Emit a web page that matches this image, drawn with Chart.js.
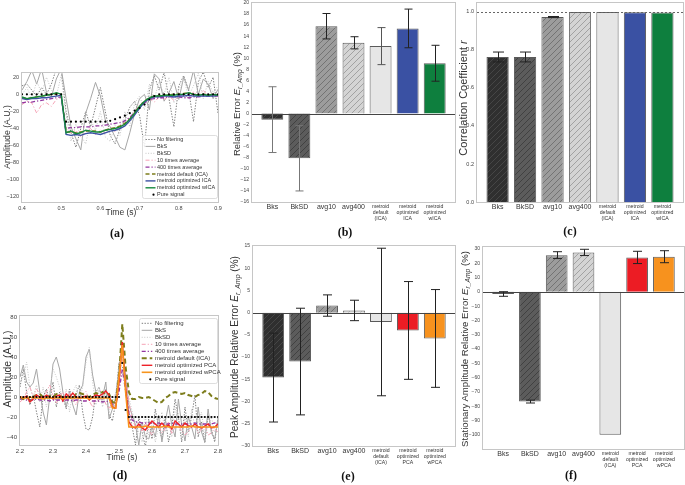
<!DOCTYPE html>
<html>
<head>
<meta charset="utf-8">
<script src="https://cdn.jsdelivr.net/npm/chart.js@4.4.1/dist/chart.umd.min.js"></script>
<style>
  body { margin: 0; background: #fff; width: 685px; height: 485px; position: relative; overflow: hidden;
         font-family: "Liberation Sans", Arial, sans-serif; }
  canvas { position: absolute; }
  .t { position: absolute; white-space: nowrap; color: #333; line-height: 1; }
  .yt { transform: translate(-50%, -50%) rotate(-90deg); }
  .xt { transform: translate(-50%, -50%); }
  .t sub { font-size: 70%; vertical-align: -0.3em; line-height: 0; }
  .lab { position: absolute; transform: translate(-50%, -50%); font: bold 12px "Liberation Serif", "Times New Roman", serif; color: #111; }
</style>
</head>
<body>
<canvas id="ca"></canvas>
<canvas id="cb"></canvas>
<canvas id="cc"></canvas>
<canvas id="cd"></canvas>
<canvas id="ce"></canvas>
<canvas id="cf"></canvas>

<div class="t yt" style="left:7px;top:137px;font-size:8.7px">Amplitude (A.U.)</div>
<div class="t xt" style="left:121px;top:212px;font-size:8.5px">Time (s)</div>
<div class="lab" style="left:117px;top:233px">(a)</div>

<div class="t yt" style="left:237px;top:104px;font-size:9.5px">Relative Error <i>E</i><sub><i>r_Amp</i></sub> (%)</div>
<div class="lab" style="left:345px;top:232px">(b)</div>

<div class="t yt" style="left:463px;top:98px;font-size:11px">Correlation Coefficient <i>r</i></div>
<div class="lab" style="left:570px;top:231px">(c)</div>

<div class="t yt" style="left:7px;top:369px;font-size:10.5px">Amplitude (A.U.)</div>
<div class="t xt" style="left:122px;top:457px;font-size:8.5px">Time (s)</div>
<div class="lab" style="left:120px;top:475px">(d)</div>

<div class="t yt" style="left:235px;top:347px;font-size:10px">Peak Amplitude Relative Error <i>E</i><sub><i>r_Amp</i></sub> (%)</div>
<div class="lab" style="left:348px;top:476px">(e)</div>

<div class="t yt" style="left:465px;top:349px;font-size:9.6px">Stationary Amplitude Relative Error <i>E</i><sub><i>r_Amp</i></sub> (%)</div>
<div class="lab" style="left:571px;top:475px">(f)</div>

<script>
// ---------- (a) time course around the step, ICA variants ----------
const timeA = [0.4, 0.4125, 0.425, 0.4375, 0.45, 0.4625, 0.475, 0.4875, 0.5, 0.5125,
  0.525, 0.5375, 0.55, 0.5625, 0.575, 0.5875, 0.6, 0.6125, 0.625, 0.6375,
  0.65, 0.6625, 0.675, 0.6875, 0.7, 0.7125, 0.725, 0.7375, 0.75, 0.7625,
  0.775, 0.7875, 0.8, 0.8125, 0.825, 0.8375, 0.85, 0.8625, 0.875, 0.8875, 0.9];
const noFiltA = [10, 12, 5, -2, 8, 0, 12, 30, 28, -20, -45, -62, -40, -20, -38, -15, 8, -20, -48, -58,
  -40, -30, -15, -8, -25, -62, 5, 22, 5, 26, -5, -38, 10, 22, 5, -32, 15, 26, 8, 20, -22];
const bksA = [5, 15, 28, 12, 30, 2, -3, 18, 30, -5, -38, -52, -65, -22, -5, 14, -2, -30, -38, -50,
  -62, -65, -45, -22, -5, 0, -18, 24, 18, -8, 2, 15, -6, 20, 5, 28, 0, 18, 12, -5, 6];
const bksdA = [0, 8, -5, 15, 2, 20, 5, -2, 22, -25, -55, -35, -48, -58, -30, -42, -20, -50, -55, -35,
  -48, -20, -38, -10, -2, -18, 12, -5, 15, 0, 20, -10, 5, 18, -2, 10, 25, -5, 15, 2, 10];
const avg10A = [-12, -8, -10, -22, -12, -10, -14, -6, -4, -40, -45, -42, -50, -44, -40, -47, -42, -45, -40, -44,
  -36, -33, -28, -20, -12, -8, -5, -9, -3, -6, -2, -7, -3, 1, -5, 3, -2, 5, -3, 1, -2];
const avg400A = [-10, -9, -9, -8, -7, -6, -5, -4, -3, -40, -39, -39, -38, -38, -38, -37, -37, -36, -35, -34,
  -33, -31, -27, -21, -15, -10, -6, -5, -4, -4, -3, -3, -3, -4, -4, -3, -3, -2, -2, -2, -2];
const defIcaA = [-4, -5, -4, -3, -2, -1, 0, 1, 0, -44, -44, -45, -44, -43, -43, -43, -44, -42, -40, -39,
  -37, -34, -29, -22, -14, -8, -4, -2, -2, -1, -1, 0, 0, 1, 2, 0, -1, 0, -1, 0, -1];
const optIcaA = [-5, -6, -5, -5, -4, -4, -3, -2, -1, -47, -48, -47, -48, -46, -45, -46, -47, -45, -43, -42,
  -40, -37, -31, -24, -16, -9, -5, -3, -3, -2, -2, -3, -2, -2, -1, -2, -2, -2, -2, -2, -1];
const optWicaA = [-3, -5, -4, -3, -2, -1, 0, 2, 0, -45, -43, -46, -45, -42, -43, -44, -44, -42, -41, -40,
  -38, -35, -29, -22, -14, -8, -4, -2, -2, -1, -1, -1, 0, 0, 2, 0, -1, 0, -1, 0, -1];
const pureA = [0, 0, 0, 0, 0, 0, 0, 0, 0, -32, -32, -32, -32, -32, -32, -32, -32, -32, -31, -29,
  -27, -25, -22, -19, -16, -12, -6, -2, 0, 0, 0, 0, 0, 0, 0, 0, 0, 0, 0, 0, 0];
const ticksAX = [0.4, 0.5, 0.6, 0.7, 0.8, 0.9];
const ticksAY = [20, 0, -20, -40, -60, -80, -100, -120];

// ---------- (d) time course around the peak, PCA variants ----------
const timeD = [2.2, 2.21, 2.22, 2.23, 2.24, 2.25, 2.26, 2.27, 2.28, 2.29,
  2.3, 2.31, 2.32, 2.33, 2.34, 2.35, 2.36, 2.37, 2.38, 2.39,
  2.4, 2.41, 2.42, 2.43, 2.44, 2.45, 2.46, 2.47, 2.48, 2.49,
  2.5, 2.51, 2.52, 2.53, 2.54, 2.55, 2.56, 2.57, 2.58, 2.59,
  2.6, 2.61, 2.62, 2.63, 2.64, 2.65, 2.66, 2.67, 2.68, 2.69,
  2.7, 2.71, 2.72, 2.73, 2.74, 2.75, 2.76, 2.77, 2.78, 2.79, 2.8];
const noFiltD = [10, 28, 5, -8, 2, -15, -30, 0, 8, -5,
  15, -10, 5, 0, -12, 8, -5, 3, 12, -15,
  -32, -33, -20, 5, 10, -5, 8, -18, -24, -5,
  35, 30, 10, -15, -30, -48, -20, -35, -50, -22,
  -42, -12, -30, -42, -20, -45, -30, -2, -20, -45,
  -10, -35, -20, 2, -40, -25, -46, -18, -32, -45, -20];
const bksD = [20, 32, 15, 10, 14, 28, 5, -15, -28, 0,
  33, 40, 28, 5, -10, 5, -8, -18, 5, 12,
  40, 48, 22, 5, -3, 0, 15, -22, -12, 0,
  30, 50, 20, -8, -18, -28, -48, -25, -40, -42,
  -30, -40, -18, -45, -25, -8, -28, -40, -2, -28,
  -44, -20, -30, -42, -10, -35, -45, -12, -36, -42, -22];
const bksdD = [15, 20, 35, 10, 0, 12, -5, 10, -10, 5,
  28, 20, 10, -5, 8, -15, 5, 12, -5, 10,
  35, 50, 15, -8, 10, -10, 5, -15, -5, 5,
  25, 45, 25, 0, -15, -25, -35, -45, -20, -38,
  -28, -45, -30, -15, -35, -25, -40, -10, -28, -38,
  -20, -40, -12, -30, -25, -15, -38, -30, -20, -35, -28];
const avg10D = [-5, -2, 5, 10, 0, 8, 3, -2, 5, 12,
  2, -6, 0, 5, -3, 4, -2, -8, 0, 3,
  6, -4, -10, 0, -5, 2, -7, -12, -4, -8,
  10, 40, 20, -5, -22, -30, -27, -35, -26, -33,
  -38, -30, -28, -36, -32, -25, -37, -30, -28, -34,
  -38, -35, -30, -27, -36, -33, -28, -38, -36, -32, -35];
const avg400D = [-2, -2, -3, -3, -3, -2, -3, -3, -3, -4,
  -3, -3, -3, -4, -3, -3, -4, -3, -3, -4,
  -4, -3, -4, -4, -4, -5, -4, -5, -7, -6,
  5, 28, 6, -16, -23, -25, -25, -26, -26, -26,
  -26, -27, -26, -27, -27, -27, -26, -27, -27, -27,
  -27, -27, -27, -26, -27, -27, -27, -27, -27, -26, -27];
const defIcaD = [0, -2, 0, -3, 0, 2, 3, 0, -1, 1,
  0, 3, 2, -1, 1, 0, -2, 3, 4, 3,
  1, 0, 2, 4, 3, 5, 2, 3, -5, -6,
  20, 73, 30, 5, -2, -2, 0, -1, -1, 0,
  -2, -4, -6, -5, -1, 1, 4, 5, 4, 3,
  4, 2, 1, 0, 2, 3, 6, 5, 1, -1, -2];
const optPcaD = [0, -1, 1, -5, -2, 2, 0, -1, 2, 0,
  -2, 1, 2, -4, 3, 0, 4, 0, -1, 0,
  1, -3, 0, 2, 1, 3, 6, 2, -10, -11,
  15, 55, 10, -25, -30, -31, -27, -31, -33, -28,
  -24, -27, -30, -26, -30, -28, -32, -24, -27, -30,
  -26, -29, -30, -27, -30, -31, -29, -27, -31, -30, -27];
const optWpcaD = [0, -1, -1, 0, -1, -1, -1, -2, -1, -1,
  -1, -1, -1, -2, -1, -1, -1, -1, -1, -1,
  -1, -2, -1, -1, -1, -1, -1, -1, -11, -11,
  20, 52, 5, -30, -30, -30, -30, -30, -29, -30,
  -30, -30, -30, -30, -29, -30, -30, -30, -30, -30,
  -30, -30, -29, -30, -30, -30, -30, -30, -30, -30, -30];
const pureD = [0, 0, 0, 0, 0, 0, 0, 0, 0, 0,
  0, 0, 0, 0, 0, 0, 0, 0, 0, 0,
  0, 0, 0, 0, 0, 0, 0, 0, 0, 0,
  0, 34, -13, -20, -20, -20, -20, -20, -20, -20,
  -20, -20, -20, -20, -20, -20, -20, -20, -20, -20,
  -20, -20, -20, -20, -20, -20, -20, -20, -20, -20, -20];
const ticksDX = [2.2, 2.3, 2.4, 2.5, 2.6, 2.7, 2.8];
const ticksDY = [80, 60, 40, 20, 0, -20, -40];

// ---------- bar panels ----------
const methodsICA = ['Bks', 'BkSD', 'avg10', 'avg400', ['metroid', 'default', '(ICA)'],
  ['metroid', 'optimized', 'ICA'], ['metroid', 'optimized', 'wICA']];
const methodsPCA = ['Bks', 'BkSD', 'avg10', 'avg400', ['metroid', 'default', '(ICA)'],
  ['metroid', 'optimized', 'PCA'], ['metroid', 'optimized', 'wPCA']];

const relErr = [-1.1, -8.1, 15.8, 12.8, 12.2, 15.4, 9.1];      // (b)
const relErrSd = [5.95, 5.9, 2.3, 1.1, 3.35, 3.5, 3.25];
const corrR = [0.763, 0.763, 0.973, 0.999, 0.999, 0.998, 0.997]; // (c)
const corrRSd = [0.026, 0.026, 0.003, 0, 0, 0, 0];
const peakErr = [-14.6, -11.0, 1.6, 0.5, -2.1, -4.0, -5.8];     // (e)
const peakErrSd = [10.0, 12.0, 2.4, 2.3, 16.6, 11.0, 11.0];
const statErr = [-1.5, -76.8, 25.7, 27.6, -100, 24.1, 24.6];     // (f)
const statErrSd = [1.6, 1.0, 2.4, 2.2, 0, 4.3, 4.2];

const ticksB = [20, 18, 16, 14, 12, 10, 8, 6, 4, 2, 0, -2, -4, -6, -8, -10, -12, -14, -16];
const ticksC = [0, 0.2, 0.4, 0.6, 0.8, 1.0];
const ticksE = [15, 10, 5, 0, -5, -10, -15, -20, -25, -30];
const ticksF = [30, 20, 10, 0, -10, -20, -30, -40, -50, -60, -70, -80, -90, -100];

// ---------- helpers ----------
const FONT = '"Liberation Sans", Arial, sans-serif';
Chart.defaults.font.family = FONT;
const PAD = 8;
const minus = v => String(v).replace('-', '\u2212');

function place(id, L, T, R, B, yw, xh) {
  const c = document.getElementById(id);
  c.width = R - L + yw + PAD;
  c.height = B - T + PAD + xh;
  c.style.left = (L - yw) + 'px';
  c.style.top = (T - PAD) + 'px';
  return c;
}

function axis(min, max, ticks, size, fmt, fit) {
  return {
    type: 'linear', min, max, offset: false,
    grid: { display: false, drawTicks: false }, border: { display: false },
    afterBuildTicks: s => { s.ticks = ticks.map(v => ({ value: v })); },
    afterFit: fit,
    ticks: { autoSkip: false, maxRotation: 0, padding: 3, color: '#444', font: { size }, callback: fmt }
  };
}

function hatch(bg, fg) {
  const c = document.createElement('canvas');
  c.width = c.height = 6;
  const g = c.getContext('2d');
  g.fillStyle = bg; g.fillRect(0, 0, 6, 6);
  g.strokeStyle = fg; g.lineWidth = 0.9;
  g.beginPath();
  g.moveTo(0, 6); g.lineTo(6, 0);
  g.moveTo(-1, 1); g.lineTo(1, -1);
  g.moveTo(5, 7); g.lineTo(7, 5);
  g.stroke();
  return g.createPattern(c, 'repeat');
}

const framePlugin = {
  id: 'frame',
  afterDatasetsDraw(chart) {
    const { ctx, chartArea: a } = chart;
    ctx.save();
    ctx.strokeStyle = '#c6c6c6'; ctx.lineWidth = 1;
    ctx.strokeRect(a.left - 0.5, a.top - 0.5, a.right - a.left + 1, a.bottom - a.top + 1);
    ctx.restore();
  }
};

function refLine(value, color, dash) {
  return {
    id: 'refLine',
    afterDatasetsDraw(chart) {
      const { ctx, chartArea: a, scales: { y } } = chart;
      const py = Math.round(y.getPixelForValue(value)) + 0.5;
      ctx.save();
      ctx.strokeStyle = color; ctx.lineWidth = 1; ctx.setLineDash(dash);
      ctx.beginPath(); ctx.moveTo(a.left, py); ctx.lineTo(a.right, py); ctx.stroke();
      ctx.restore();
    }
  };
}

const errPlugin = {
  id: 'errbars',
  afterDatasetsDraw(chart) {
    const ds = chart.data.datasets[0];
    const y = chart.scales.y, ctx = chart.ctx;
    ctx.save();
    ctx.lineWidth = 1;
    chart.getDatasetMeta(0).data.forEach((bar, i) => {
      const e = ds.err[i];
      if (!e) return;
      const v = ds.data[i].y;
      const x = Math.round(bar.x) + 0.5;
      const y1 = y.getPixelForValue(v + e), y2 = y.getPixelForValue(v - e);
      const hw = ds.cap / 2;
      ctx.strokeStyle = ds.errColor[i];
      ctx.beginPath();
      ctx.moveTo(x, y1); ctx.lineTo(x, y2);
      ctx.moveTo(x - hw, y1); ctx.lineTo(x + hw, y1);
      ctx.moveTo(x - hw, y2); ctx.lineTo(x + hw, y2);
      ctx.stroke();
    });
    ctx.restore();
  }
};

const legendPlugin = {
  id: 'insetLegend',
  afterDraw(chart, args, o) {
    const { ctx, chartArea: a } = chart;
    const x0 = a.right - o.w - 1, y0 = a.top + o.top;
    ctx.save();
    ctx.fillStyle = 'rgba(255,255,255,0.85)';
    ctx.strokeStyle = '#d6d6d6'; ctx.lineWidth = 0.8;
    ctx.beginPath();
    if (ctx.roundRect) ctx.roundRect(x0 + 0.5, y0 + 0.5, o.w, o.h, 2); else ctx.rect(x0 + 0.5, y0 + 0.5, o.w, o.h);
    ctx.fill(); ctx.stroke();
    ctx.font = o.size + 'px ' + FONT;
    ctx.textBaseline = 'middle';
    chart.data.datasets.forEach((d, i) => {
      const y = y0 + o.first + i * o.row;
      const sx = x0 + o.sx;
      if (d.showLine === false) {
        ctx.fillStyle = d.pointBackgroundColor;
        ctx.beginPath(); ctx.arc(sx + o.sw - 2, y, 1.1, 0, Math.PI * 2); ctx.fill();
      } else {
        ctx.strokeStyle = d.borderColor; ctx.lineWidth = d.borderWidth;
        ctx.setLineDash(d.borderDash || []);
        ctx.beginPath(); ctx.moveTo(sx, y); ctx.lineTo(sx + o.sw, y); ctx.stroke();
        ctx.setLineDash([]);
      }
      ctx.fillStyle = '#333';
      ctx.fillText(d.label, x0 + o.tx, y);
    });
    ctx.restore();
  }
};

function line(label, t, ys, color, width, dash, order) {
  return {
    label, data: t.map((x, i) => ({ x, y: ys[i] })),
    borderColor: color, borderWidth: width, borderDash: dash,
    pointRadius: 0, tension: 0, fill: false, order
  };
}
function dots(label, t, ys, order) {
  return {
    label, data: t.map((x, i) => ({ x, y: ys[i] })),
    showLine: false, pointRadius: 1.1, pointBorderWidth: 0,
    pointBackgroundColor: '#000', borderColor: '#000', order
  };
}

const C = {
  noFilt: '#7c7c7c', bks: '#a6a6a6', bksd: '#c6c6c6', avg10: '#f5a3b6', avg400: '#93369f',
  def: '#7d7d1c', ica: '#3a51a3', wica: '#168a3e', pca: '#ee2229', wpca: '#f7941d'
};
const DOT = [1.4, 1.4], DOT2 = [1, 1.6], DASHDOT = [4, 2, 1.2, 2], DASH = [4, 2.5];

function lineChart(id, rect, yw, xh, datasets, xr, yr, tx, ty, tickSize, leg) {
  const [L, T, R, B] = rect;
  const cv = place(id, L, T, R, B, yw, xh);
  return new Chart(cv, {
    type: 'line',
    data: { datasets },
    options: {
      responsive: false, animation: false, devicePixelRatio: 1,
      layout: { padding: { top: PAD, right: PAD, left: 0, bottom: 0 } },
      scales: {
        x: axis(xr[0], xr[1], tx, tickSize, v => v.toFixed(1), s => { s.height = xh; }),
        y: axis(yr[0], yr[1], ty, tickSize, minus, s => { s.width = yw; })
      },
      plugins: { legend: { display: false }, tooltip: { enabled: false }, insetLegend: leg }
    },
    plugins: [framePlugin, legendPlugin]
  });
}

function barChart(id, rect, cats, vals, errs, fills, errColors, cap, yr, ty, ySize, yfmt, ref) {
  const [L, T, R, B] = rect;
  const yw = 22, xh = 24;
  const cv = place(id, L, T, R, B, yw, xh);
  const xa = axis(-0.75, 6.75, cats.map((c, i) => i), 7, (v, i) => cats[i], s => { s.height = xh; });
  xa.ticks.padding = 1;
  xa.ticks.color = '#333';
  xa.ticks.font = ctx => ({ size: ctx.index < 4 ? 7 : 5.2, lineHeight: 1.2 });
  return new Chart(cv, {
    type: 'bar',
    data: {
      datasets: [{
        data: vals.map((v, i) => ({ x: i, y: v })),
        backgroundColor: fills, borderColor: '#5a5a5a', borderWidth: 1,
        categoryPercentage: 1, barPercentage: 0.81,
        err: errs, errColor: errColors, cap
      }]
    },
    options: {
      responsive: false, animation: false, devicePixelRatio: 1,
      layout: { padding: { top: PAD, right: PAD, left: 0, bottom: 0 } },
      scales: {
        x: xa,
        y: axis(yr[0], yr[1], ty, ySize, yfmt, s => { s.width = yw; })
      },
      plugins: { legend: { display: false }, tooltip: { enabled: false } }
    },
    plugins: [ref, errPlugin, framePlugin]
  });
}

// ---------- (a) ----------
const dsA = [
  line('No filtering', timeA, noFiltA, C.noFilt, 1, DOT, 9),
  line('BkS', timeA, bksA, C.bks, 1, [], 8),
  line('BkSD', timeA, bksdA, C.bksd, 1, DOT2, 7),
  line('10 times average', timeA, avg10A, C.avg10, 1, DASHDOT, 6),
  line('400 times average', timeA, avg400A, C.avg400, 1.3, DASHDOT, 5),
  line('metroid default (ICA)', timeA, defIcaA, C.def, 1.5, DASH, 4),
  line('metroid optimized ICA', timeA, optIcaA, C.ica, 1.4, [], 3),
  line('metroid optimized wICA', timeA, optWicaA, C.wica, 1.4, [], 2),
  dots('Pure signal', timeA, pureA, 1)
];
lineChart('ca', [22, 73, 218, 202], 22, 16, dsA, [0.4, 0.9], [-126, 25], ticksAX, ticksAY, 5.5,
  { w: 75, h: 63, top: 62, first: 4.5, row: 6.9, sx: 3.5, sw: 10, tx: 15, size: 5.5 });

// ---------- (d) ----------
const dsD = [
  line('No filtering', timeD, noFiltD, C.noFilt, 1, DOT, 9),
  line('BkS', timeD, bksD, C.bks, 1, [], 8),
  line('BkSD', timeD, bksdD, C.bksd, 1, DOT2, 7),
  line('10 times average', timeD, avg10D, C.avg10, 1, DASHDOT, 6),
  line('400 times average', timeD, avg400D, C.avg400, 1.3, DASHDOT, 5),
  line('metroid default (ICA)', timeD, defIcaD, C.def, 2, [5, 3], 4),
  line('metroid optimized PCA', timeD, optPcaD, C.pca, 1.4, [], 3),
  line('metroid optimized wPCA', timeD, optWpcaD, C.wpca, 1.6, [], 2),
  dots('Pure signal', timeD, pureD, 1)
];
lineChart('cd', [20, 316, 218, 445], 20, 16, dsD, [2.2, 2.8], [-48, 81], ticksDX, ticksDY, 6,
  { w: 78, h: 65, top: 2, first: 5.3, row: 7.0, sx: 2.7, sw: 10.6, tx: 16, size: 6 });

// ---------- bar fills ----------
const hBks = hatch('#2f2f2f', '#4a4a4a');
const hBksd = hatch('#5c5c5c', '#3e3e3e');
const hAvg10 = hatch('#9c9c9c', '#6e6e6e');
const hAvg400 = hatch('#d4d4d4', '#9c9c9c');
const fillsICA = [hBks, hBksd, hAvg10, hAvg400, '#e6e6e6', C.ica, '#0e7f3e'];
const fillsPCA = [hBks, hBksd, hAvg10, hAvg400, '#e6e6e6', '#ec1c24', '#f7921e'];
const dark = Array(7).fill('#222');

barChart('cb', [252, 3, 455, 202], methodsICA, relErr, relErrSd, fillsICA,
  ['#777', '#777', '#222', '#222', '#555', '#222', '#222'], 8, [-16, 20], ticksB, 5, minus,
  refLine(0, '#444', []));
barChart('cc', [477, 3, 683, 202], methodsICA, corrR, corrRSd, fillsICA, dark, 11,
  [0, 1.047], ticksC, 5.5, v => v.toFixed(1), refLine(1, '#666', [2, 2]));
barChart('ce', [253, 246, 455, 446], methodsPCA, peakErr, peakErrSd, fillsPCA, dark, 9,
  [-30, 15], ticksE, 5, minus, refLine(0, '#444', []));
barChart('cf', [483, 247, 684, 449], methodsPCA, statErr, statErrSd, fillsPCA, dark, 9,
  [-110, 31.4], ticksF, 5, minus, refLine(0, '#444', []));
</script>
</body>
</html>
